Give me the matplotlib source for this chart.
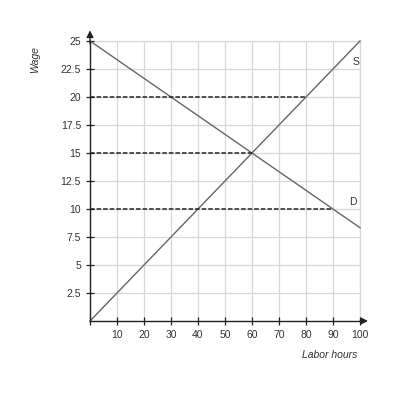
import numpy as np
import matplotlib
matplotlib.use("Agg")
import matplotlib.pyplot as plt

plt.rcParams["font.family"] = ["Liberation Sans", "DejaVu Sans"]

# supply and demand endpoints
supply_x = [0, 100]
supply_y = [0, 25]
demand_x = [0, 100]
demand_y = [25, 8.33]

# dashed wage levels and where they stop
dash_wages = [20, 15, 10]
dash_ends = [80, 60, 90]

x_ticks = [10, 20, 30, 40, 50, 60, 70, 80, 90, 100]
y_ticks = [2.5, 5, 7.5, 10, 12.5, 15, 17.5, 20, 22.5, 25]

fig = plt.figure(figsize=(4, 4), dpi=100)
ax = fig.add_axes([0.225, 0.1975, 0.675, 0.7])

ax.set_xlim(0, 100)
ax.set_ylim(0, 25)
ax.set_xticks(np.arange(0, 101, 10))
ax.set_xticklabels([""] + [str(t) for t in x_ticks])
ax.set_yticks(y_ticks)
ax.set_yticklabels([f"{t:g}" for t in y_ticks])
ax.grid(True, color="#d8d8d8", lw=0.9)
ax.set_axisbelow(True)

for s in ["top", "right"]:
    ax.spines[s].set_visible(False)
for s in ["left", "bottom"]:
    ax.spines[s].set_color("#222222")
    ax.spines[s].set_linewidth(1.0)

ax.tick_params(direction="inout", length=6, width=0.9, labelsize=7.5,
               labelcolor="#333333", color="#222222")

# top and right edges of the grid
ax.plot([0, 100], [25, 25], color="#d8d8d8", lw=0.9, clip_on=False, zorder=0)
ax.plot([100, 100], [0, 25], color="#d8d8d8", lw=0.9, clip_on=False, zorder=0)

# axis arrows
ax.annotate("", xy=(104, 0), xytext=(99, 0),
            arrowprops=dict(arrowstyle="-|>", color="#222222", lw=1.0,
                            mutation_scale=10),
            annotation_clip=False)
ax.annotate("", xy=(0, 26.2), xytext=(0, 24.5),
            arrowprops=dict(arrowstyle="-|>", color="#222222", lw=1.0,
                            mutation_scale=10),
            annotation_clip=False)

ax.plot(supply_x, supply_y, color="#666666", lw=1.0, clip_on=False)
ax.plot(demand_x, demand_y, color="#666666", lw=1.0, clip_on=False)

for w, e in zip(dash_wages, dash_ends):
    ax.plot([0, e], [w, w], color="#222222", lw=1.1, ls=(0, (3, 1.3)))

ax.text(98.5, 23.1, "S", fontsize=7.5, color="#333333", ha="center", va="center")
ax.text(97.5, 10.6, "D", fontsize=7.5, color="#333333", ha="center", va="center")

fig.text(0.0875, 0.85, "Wage", rotation=90, fontsize=7.5, style="italic",
         color="#333333", ha="center", va="center")
fig.text(0.825, 0.112, "Labor hours", fontsize=7.5, style="italic",
         color="#333333", ha="center", va="center")

fig.savefig("out.png", dpi=100)
